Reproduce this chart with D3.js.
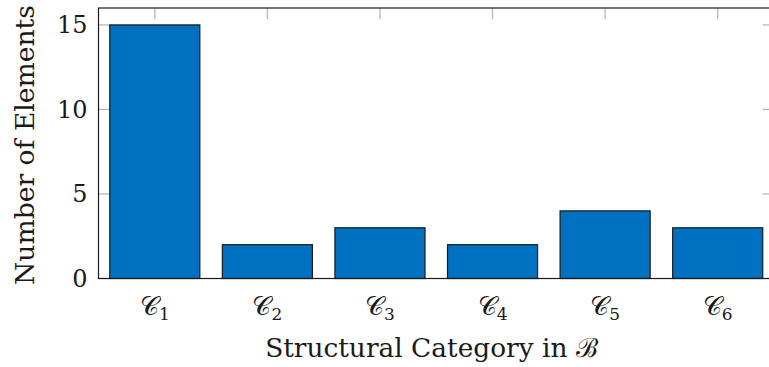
<!DOCTYPE html>
<html>
<head>
<meta charset="utf-8">
<script src="https://cdn.jsdelivr.net/npm/d3@7"></script>
<style>
  html, body { margin: 0; padding: 0; background: #fff; }
  svg { display: block; }
  text { font-family: "DejaVu Serif", "Liberation Serif", serif; fill: #1a1a1a; }
</style>
</head>
<body>
<svg id="chart" width="769" height="367"></svg>
<script>
// Number of elements per structural category
const categories = ["C1", "C2", "C3", "C4", "C5", "C6"];
const subscripts = ["1", "2", "3", "4", "5", "6"];
const counts = [15, 2, 3, 2, 4, 3];
const yTicks = [0, 5, 10, 15];

const svg = d3.select("#chart");
const margin = { left: 98.5, top: 8, bottom: 278.5 };
const plotRight = 774;

const x = d3.scaleBand()
  .domain(categories)
  .range([margin.left, plotRight])
  .paddingInner(0.2)
  .paddingOuter(0.1);

const y = d3.scaleLinear().domain([0, 16]).range([margin.bottom, margin.top]);

const tickColor = "#b3b3b3";
const tickLen = 11;

// Inner tick marks on all four sides
const g = svg.append("g");
categories.forEach(c => {
  const cx = x(c) + x.bandwidth() / 2;
  g.append("line").attr("x1", cx).attr("x2", cx)
    .attr("y1", margin.top).attr("y2", margin.top + tickLen)
    .attr("stroke", tickColor).attr("stroke-width", 1.2);
  g.append("line").attr("x1", cx).attr("x2", cx)
    .attr("y1", margin.bottom).attr("y2", margin.bottom - tickLen)
    .attr("stroke", tickColor).attr("stroke-width", 1.2);
});
yTicks.forEach(t => {
  g.append("line").attr("x1", margin.left).attr("x2", margin.left + tickLen)
    .attr("y1", y(t)).attr("y2", y(t))
    .attr("stroke", tickColor).attr("stroke-width", 1.2);
  g.append("line").attr("x1", plotRight).attr("x2", plotRight - tickLen)
    .attr("y1", y(t)).attr("y2", y(t))
    .attr("stroke", tickColor).attr("stroke-width", 1.2);
});

// Bars
svg.append("g").selectAll("rect")
  .data(counts)
  .join("rect")
  .attr("x", (d, i) => x(categories[i]))
  .attr("y", d => y(d))
  .attr("width", x.bandwidth())
  .attr("height", d => y(0) - y(d))
  .attr("fill", "#0070c0")
  .attr("stroke", "#1a1a1a")
  .attr("stroke-width", 1.2);

// Frame
svg.append("rect")
  .attr("x", margin.left).attr("y", margin.top)
  .attr("width", plotRight - margin.left)
  .attr("height", margin.bottom - margin.top)
  .attr("fill", "none").attr("stroke", "#1a1a1a").attr("stroke-width", 1.2);

// Y tick labels
svg.append("g").selectAll("text")
  .data(yTicks)
  .join("text")
  .attr("x", 87.5)
  .attr("y", d => y(d) + 8.5)
  .attr("text-anchor", "end")
  .attr("font-size", 24)
  .text(d => d);

// X tick labels: calligraphic C with subscript
const xl = svg.append("g").selectAll("text")
  .data(categories)
  .join("text")
  .attr("x", c => x(c) + x.bandwidth() / 2)
  .attr("y", 315)
  .attr("text-anchor", "middle")
  .attr("font-size", 26);
xl.append("tspan").text("𝒞");
xl.append("tspan").attr("font-size", 17).attr("dy", 5).text((c, i) => subscripts[i]);

// Axis titles, sized to span their intended length
function fit(sel, target) {
  const fs = +sel.attr("font-size");
  const len = sel.node().getComputedTextLength();
  sel.attr("font-size", fs * target / len);
}

const xTitle = svg.append("text")
  .attr("x", 431.5).attr("y", 357)
  .attr("text-anchor", "middle")
  .attr("font-size", 24)
  .text("Structural Category in ℬ");
fit(xTitle, 333);

const yTitle = svg.append("text")
  .attr("transform", "translate(34,145) rotate(-90)")
  .attr("text-anchor", "middle")
  .attr("font-size", 24)
  .text("Number of Elements");
fit(yTitle, 280);
</script>
</body>
</html>
